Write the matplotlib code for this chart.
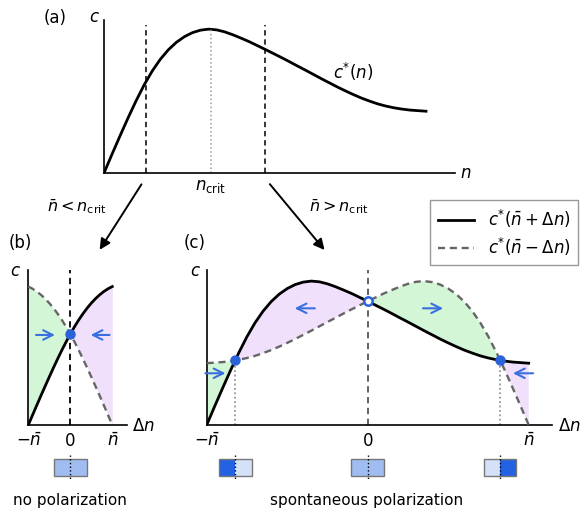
import numpy as np
import matplotlib
matplotlib.use("Agg")
import matplotlib.pyplot as plt
from matplotlib.patches import Rectangle

# c*(n), n in units of nbar for panel (c), c normalised to the peak
n_grid = np.linspace(0, 2, 41)
c_star = np.array([0.000, 0.131, 0.259, 0.384, 0.503, 0.613, 0.709, 0.790, 0.856, 0.908,
                   0.947, 0.975, 0.992, 0.999, 0.994, 0.980, 0.960, 0.937, 0.913, 0.886,
                   0.859, 0.831, 0.803, 0.774, 0.744, 0.715, 0.685, 0.655, 0.626, 0.597,
                   0.570, 0.544, 0.520, 0.499, 0.480, 0.465, 0.453, 0.444, 0.437, 0.433,
                   0.429])

# rising part used in panel (b), n in units of nbar for panel (b)
n_grid_b = np.linspace(0, 2, 21)
c_star_b = np.array([0.000, 0.068, 0.136, 0.203, 0.269, 0.334, 0.398, 0.460, 0.520, 0.577,
                     0.631, 0.682, 0.729, 0.772, 0.811, 0.846, 0.877, 0.904, 0.927, 0.946,
                     0.961])

nbar_b = 0.261   # nbar of panel (b) on the n axis of panel (a)
nbar_c = 1.0
n_crit = 0.665

GREEN = "#d3f6d6"
VIOLET = "#f1e0fb"
BLUE = "#2a62da"
DARK = "#2362e3"
MID = "#a0bdf2"
LIGHT = "#d5e1f9"
GRAY = "#666666"

W, H = 580, 514


def fx(px):
    return px / W


def fy(py):
    return 1 - py / H


def axes_px(x0, y0, x1, y1):
    return fig.add_axes([fx(x0), fy(y1), (x1 - x0) / W, (y1 - y0) / H])


def style(ax):
    for s in ["top", "right"]:
        ax.spines[s].set_visible(False)
    for s in ["left", "bottom"]:
        ax.spines[s].set_linewidth(1.2)
    ax.set_yticks([])
    ax.tick_params(length=0, labelsize=12, pad=5)


def fixed_points(x, y1, y2):
    d = y1 - y2
    pts = []
    for i in range(len(d) - 1):
        if d[i] == 0:
            pts.append((x[i], y1[i], d[i + 1] - d[i - 1] > 0))
        elif d[i] * d[i + 1] < 0:
            t = d[i] / (d[i] - d[i + 1])
            xc = x[i] + t * (x[i + 1] - x[i])
            pts.append((xc, y1[i] + t * (y1[i + 1] - y1[i]), d[i + 1] > d[i]))
    return pts


def draw_panel(ax, dn, solid, dashed, mid_color, box_w, arrows, arrow_len):
    ax.fill_between(dn, solid, dashed, where=dashed >= solid, interpolate=True,
                    color=GREEN, lw=0)
    ax.fill_between(dn, solid, dashed, where=solid >= dashed, interpolate=True,
                    color=VIOLET, lw=0)
    ax.plot([0, 0], [0, 1.076], color=mid_color, lw=1.3, dashes=(3.5, 2.5),
            clip_on=False, zorder=1)
    ax.plot(dn, dashed, color=GRAY, lw=1.7, dashes=(3, 2), zorder=3)
    ax.plot(dn, solid, color="k", lw=2, zorder=3)
    for xc, yc, stable in fixed_points(dn, solid, dashed):
        if abs(xc) > 1e-6:
            ax.plot([xc, xc], [0, yc], color="#888888", ls=":", lw=1.2, zorder=2)
        if stable:
            ax.plot(xc, yc, "o", ms=6.5, color=BLUE, zorder=5, clip_on=False)
            if xc < -1e-6:
                cl, cr = DARK, LIGHT
            elif xc > 1e-6:
                cl, cr = LIGHT, DARK
            else:
                cl, cr = MID, MID
        else:
            ax.plot(xc, yc, "o", ms=6, mfc="white", mec=BLUE, mew=1.8, zorder=5,
                    clip_on=False)
            cl, cr = MID, MID
        for x0, col in [(xc - box_w / 2, cl), (xc, cr)]:
            ax.add_patch(Rectangle((x0, -0.354), box_w / 2, 0.118, facecolor=col,
                                   edgecolor="none", clip_on=False))
        ax.add_patch(Rectangle((xc - box_w / 2, -0.354), box_w, 0.118,
                               facecolor="none", edgecolor="#777777", lw=1,
                               clip_on=False))
        ax.plot([xc, xc], [-0.208, -0.382], color="k", ls=":", lw=1, clip_on=False)
    for x, y, direction in arrows:
        ax.annotate("", xy=(x + direction * arrow_len / 2, y),
                    xytext=(x - direction * arrow_len / 2, y),
                    arrowprops=dict(arrowstyle="->", color="#3a6fe0", lw=1.5,
                                    mutation_scale=17, shrinkA=0, shrinkB=0))
    ax.set_xticks([-1, 0, 1], [r"$-\bar{n}$", "0", r"$\bar{n}$"])


fig = plt.figure(figsize=(W / 100, H / 100), dpi=100)

# panel (a)
ax_a = axes_px(104, 20, 455, 173)
style(ax_a)
ax_a.set_xlim(0, 351 / 161)
ax_a.set_ylim(0, 153 / 144)
ax_a.plot(n_grid, c_star, color="k", lw=2)
for nb in [nbar_b, nbar_c]:
    ax_a.plot([nb, nb], [0, 1.03], color="k", lw=1.1, dashes=(3.5, 2.5))
ax_a.plot([n_crit, n_crit], [0, np.max(c_star)], color="#999999", ls=":", lw=1.1)
ax_a.set_xticks([n_crit], [r"$n_{\rm crit}$"])
ax_a.tick_params(pad=3)
ax_a.text(1.548, 0.703, r"$c^{*}(n)$", fontsize=12, ha="center", va="center")

# panel (b)
ax_b = axes_px(28.3, 270, 126.7, 425)
style(ax_b)
ax_b.set_xlim(-1, 1.343)
ax_b.set_ylim(0, 1.076)
dn_b = n_grid_b - 1
draw_panel(ax_b, dn_b, c_star_b, c_star_b[::-1], "k", 0.78,
           [(-0.59, 0.625, 1), (0.71, 0.625, -1)], 0.45)

# panel (c)
ax_c = axes_px(206.7, 270, 551.7, 425)
style(ax_c)
ax_c.set_xlim(-1, 1.143)
ax_c.set_ylim(0, 1.076)
dn_c = n_grid - 1
draw_panel(ax_c, dn_c, c_star, c_star[::-1], "#555555", 0.203,
           [(-0.391, 0.81, -1), (0.406, 0.81, 1), (-0.946, 0.359, 1), (0.965, 0.359, -1)],
           0.125)

# legend
h1, = ax_c.plot([], [], color="k", lw=2)
h2, = ax_c.plot([], [], color=GRAY, lw=1.7, dashes=(3, 2))
fig.legend([h1, h2], [r"$c^{*}(\bar{n}+\Delta n)$", r"$c^{*}(\bar{n}-\Delta n)$"],
           loc="upper right", bbox_to_anchor=(fx(578), fy(200)), borderaxespad=0,
           fancybox=False, edgecolor="#999999", fontsize=12, handlelength=2.2,
           borderpad=0.45, labelspacing=0.35, framealpha=1)

# connecting arrows
ax_a.annotate("", xy=(0.664, 1.20), xycoords=ax_b.transData,
              xytext=(0.242, -0.0625), textcoords=ax_a.transData,
              arrowprops=dict(arrowstyle="-|>", color="k", lw=1.4, mutation_scale=16),
              annotation_clip=False)
ax_a.annotate("", xy=(-0.257, 1.20), xycoords=ax_c.transData,
              xytext=(1.019, -0.0625), textcoords=ax_a.transData,
              arrowprops=dict(arrowstyle="-|>", color="k", lw=1.4, mutation_scale=16),
              annotation_clip=False)

# texts
fs = 12
fig.text(fx(55), fy(18), "(a)", fontsize=fs, ha="center", va="center")
fig.text(fx(94), fy(17), r"$c$", fontsize=fs, ha="center", va="center")
fig.text(fx(466), fy(173), r"$n$", fontsize=fs, ha="center", va="center")
fig.text(fx(76.7), fy(207), r"$\bar{n}<n_{\rm crit}$", fontsize=11.5, ha="center", va="center")
fig.text(fx(339), fy(207), r"$\bar{n}>n_{\rm crit}$", fontsize=11.5, ha="center", va="center")
fig.text(fx(20), fy(243), "(b)", fontsize=fs, ha="center", va="center")
fig.text(fx(195), fy(243), "(c)", fontsize=fs, ha="center", va="center")
fig.text(fx(15), fy(271), r"$c$", fontsize=fs, ha="center", va="center")
fig.text(fx(195), fy(271), r"$c$", fontsize=fs, ha="center", va="center")
fig.text(fx(143), fy(426), r"$\Delta n$", fontsize=fs, ha="center", va="center")
fig.text(fx(569), fy(426), r"$\Delta n$", fontsize=fs, ha="center", va="center")
fig.text(fx(70), fy(501), "no polarization", fontsize=11, ha="center", va="center")
fig.text(fx(367), fy(501), "spontaneous polarization", fontsize=11, ha="center", va="center")

fig.savefig("out.png", dpi=100)
